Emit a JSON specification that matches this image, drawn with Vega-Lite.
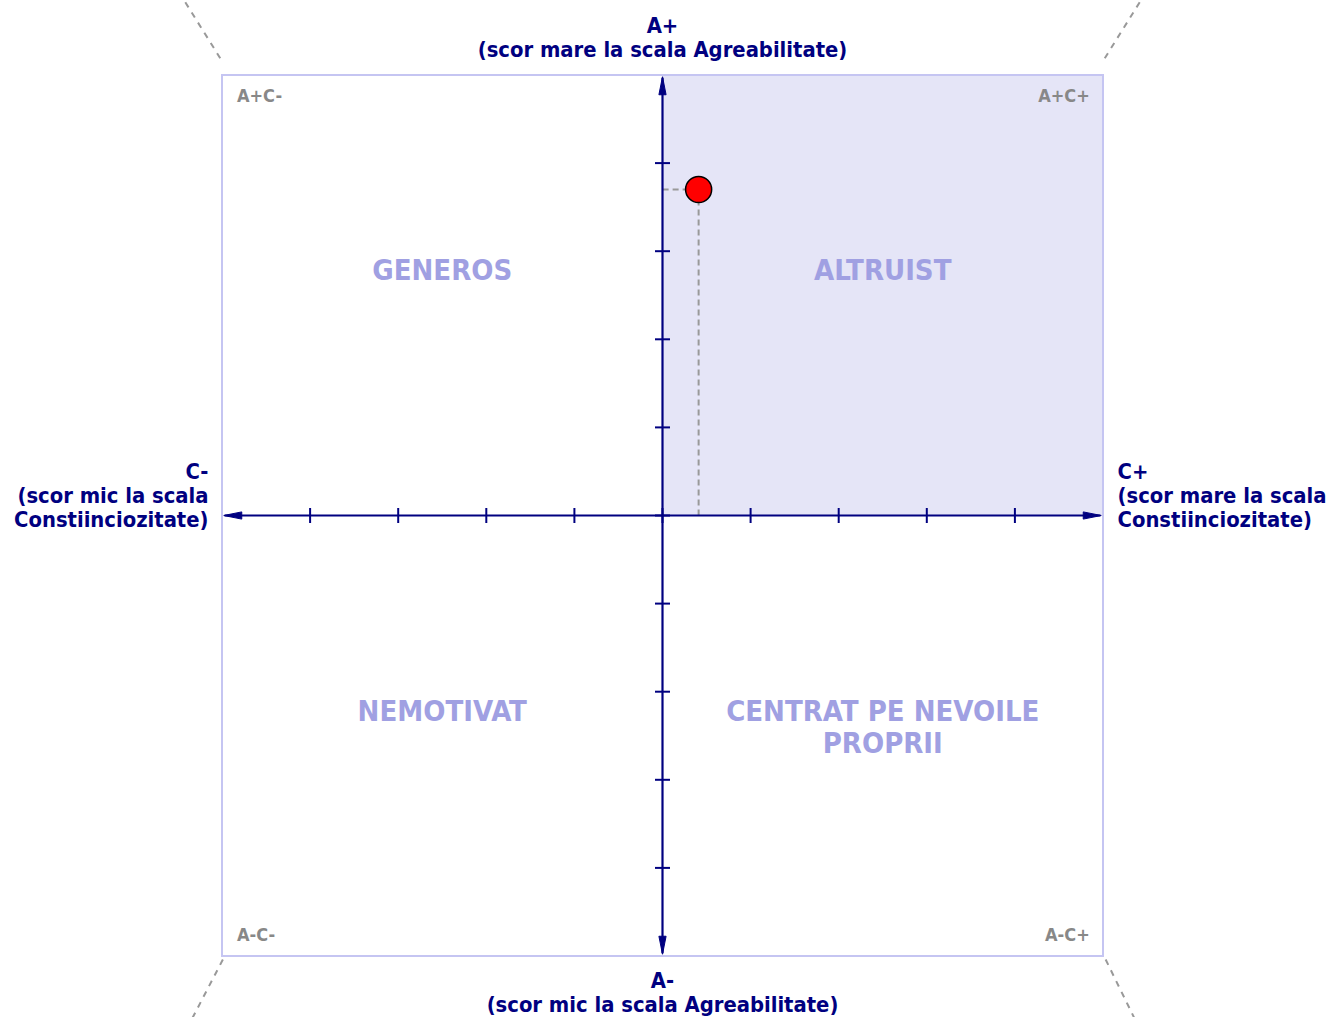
{
  "$schema": "https://vega.github.io/schema/vega-lite/v6.json",
  "width": 881,
  "height": 881,
  "autosize": {"type": "none"},
  "padding": {"left": 222, "top": 75, "right": 226, "bottom": 61},
  "background": "white",
  "config": {"view": {"stroke": null}},
  "resolve": {"scale": {"shape": "independent"}},
  "datasets": {
    "quad": [{"x": 0, "y": 0, "x2": 5, "y2": 5}],
    "box": [{"x": -5, "y": -5, "x2": 5, "y2": 5}],
    "diag": [
      {"x": -5.02, "y": 5.19, "x2": -5.65, "y2": 6.2},
      {"x": 5.02, "y": 5.19, "x2": 5.65, "y2": 6.2},
      {"x": -4.99, "y": -5.04, "x2": -5.49, "y2": -6.0},
      {"x": 5.03, "y": -5.04, "x2": 5.5, "y2": -6.0}
    ],
    "axes": [
      {"x": -4.97, "y": 0, "x2": 4.97, "y2": 0},
      {"x": 0, "y": -4.97, "x2": 0, "y2": 4.97}
    ],
    "arrows": [
      {"x": -4.98, "y": 0, "dir": "L"},
      {"x": 4.98, "y": 0, "dir": "R"},
      {"x": 0, "y": 4.98, "dir": "U"},
      {"x": 0, "y": -4.98, "dir": "D"}
    ],
    "ticks": [
      {"x": -4, "y": 0, "o": "v"}, {"x": -3, "y": 0, "o": "v"}, {"x": -2, "y": 0, "o": "v"}, {"x": -1, "y": 0, "o": "v"},
      {"x": 1, "y": 0, "o": "v"}, {"x": 2, "y": 0, "o": "v"}, {"x": 3, "y": 0, "o": "v"}, {"x": 4, "y": 0, "o": "v"},
      {"x": 0, "y": -4, "o": "h"}, {"x": 0, "y": -3, "o": "h"}, {"x": 0, "y": -2, "o": "h"}, {"x": 0, "y": -1, "o": "h"},
      {"x": 0, "y": 1, "o": "h"}, {"x": 0, "y": 2, "o": "h"}, {"x": 0, "y": 3, "o": "h"}, {"x": 0, "y": 4, "o": "h"},
      {"x": 0, "y": 0, "o": "v"}, {"x": 0, "y": 0, "o": "h"}
    ],
    "score": [{"x": 0.41, "y": 3.70}],
    "quadLabels": [
      {"x": -2.5, "y": 2.93, "label": "GENEROS"},
      {"x": 2.5, "y": 2.93, "label": "ALTRUIST"},
      {"x": -2.5, "y": -2.066, "label": "NEMOTIVAT"},
      {"x": 2.5, "y": -2.066, "label": "CENTRAT PE NEVOILE\nPROPRII"}
    ],
    "cornerLeft": [
      {"x": -4.83, "y": 4.75, "label": "A+C-"},
      {"x": -4.83, "y": -4.77, "label": "A-C-"}
    ],
    "cornerRight": [
      {"x": 4.85, "y": 4.75, "label": "A+C+"},
      {"x": 4.85, "y": -4.77, "label": "A-C+"}
    ],
    "axisCenter": [
      {"x": 0, "y": 5.67, "label": "A+\n(scor mare la scala Agreabilitate)"},
      {"x": 0, "y": -5.17, "label": "A-\n(scor mic la scala Agreabilitate)"}
    ],
    "axisLeft": [
      {"x": -5.153, "y": 0.61, "label": "C-\n(scor mic la scala\nConstiinciozitate)"}
    ],
    "axisRight": [
      {"x": 5.165, "y": 0.61, "label": "C+\n(scor mare la scala\nConstiinciozitate)"}
    ]
  },
  "encoding": {
    "x": {"field": "x", "type": "quantitative", "scale": {"domain": [-5, 5], "nice": false, "zero": false}, "axis": null},
    "y": {"field": "y", "type": "quantitative", "scale": {"domain": [-5, 5], "nice": false, "zero": false}, "axis": null}
  },
  "layer": [
    {
      "data": {"name": "quad"},
      "mark": {"type": "rect", "fill": "#e5e5f7", "stroke": null},
      "encoding": {"x2": {"field": "x2"}, "y2": {"field": "y2"}}
    },
    {
      "data": {"name": "box"},
      "mark": {"type": "rect", "fill": null, "filled": false, "stroke": "#c5c5f2", "strokeWidth": 2},
      "encoding": {"x2": {"field": "x2"}, "y2": {"field": "y2"}}
    },
    {
      "data": {"name": "diag"},
      "mark": {"type": "rule", "clip": false, "stroke": "#999999", "strokeWidth": 2, "strokeDash": [6, 6]},
      "encoding": {"x2": {"field": "x2"}, "y2": {"field": "y2"}}
    },
    {
      "data": {"name": "score"},
      "mark": {"type": "rule", "stroke": "#999999", "strokeWidth": 2, "strokeDash": [6, 4]},
      "encoding": {"y2": {"datum": 0}}
    },
    {
      "data": {"name": "score"},
      "mark": {"type": "rule", "stroke": "#999999", "strokeWidth": 2, "strokeDash": [6, 4]},
      "encoding": {"x2": {"datum": 0}}
    },
    {
      "data": {"name": "axes"},
      "mark": {"type": "rule", "stroke": "#000080", "strokeWidth": 2.2},
      "encoding": {"x2": {"field": "x2"}, "y2": {"field": "y2"}}
    },
    {
      "data": {"name": "ticks"},
      "mark": {"type": "point", "filled": false, "stroke": "#000080", "strokeWidth": 2, "size": 225, "opacity": 1},
      "encoding": {
        "shape": {"field": "o", "type": "nominal", "scale": {"domain": ["v", "h"], "range": ["M0,-1L0,1", "M-1,0L1,0"]}, "legend": null}
      }
    },
    {
      "data": {"name": "arrows"},
      "mark": {"type": "point", "filled": true, "fill": "#000080", "stroke": "#000080", "strokeWidth": 1, "size": 324, "opacity": 1},
      "encoding": {
        "shape": {"field": "dir", "type": "nominal", "scale": {"domain": ["L", "R", "U", "D"], "range": ["M0,0L2,-0.4L2,0.4Z", "M0,0L-2,-0.4L-2,0.4Z", "M0,0L-0.4,2L0.4,2Z", "M0,0L-0.4,-2L0.4,-2Z"]}, "legend": null}
      }
    },
    {
      "data": {"name": "score"},
      "mark": {"type": "point", "filled": true, "fill": "#ff0000", "stroke": "#000000", "strokeWidth": 1.5, "size": 680, "opacity": 1}
    },
    {
      "data": {"name": "quadLabels"},
      "mark": {"type": "text", "align": "center", "baseline": "top", "lineBreak": "\n", "lineHeight": 32, "font": "DejaVu Sans Condensed", "fontWeight": "bold", "fontSize": 29, "fill": "#a0a0e2"},
      "encoding": {"text": {"field": "label"}}
    },
    {
      "data": {"name": "cornerLeft"},
      "mark": {"type": "text", "align": "left", "baseline": "middle", "font": "DejaVu Sans Condensed", "fontWeight": "bold", "fontSize": 18, "fill": "#888888"},
      "encoding": {"text": {"field": "label"}}
    },
    {
      "data": {"name": "cornerRight"},
      "mark": {"type": "text", "align": "right", "baseline": "middle", "font": "DejaVu Sans Condensed", "fontWeight": "bold", "fontSize": 18, "fill": "#888888"},
      "encoding": {"text": {"field": "label"}}
    },
    {
      "data": {"name": "axisCenter"},
      "mark": {"type": "text", "clip": false, "align": "center", "baseline": "top", "lineBreak": "\n", "lineHeight": 24, "font": "DejaVu Sans Condensed", "fontWeight": "bold", "fontSize": 21.8, "fill": "#000080"},
      "encoding": {"text": {"field": "label"}}
    },
    {
      "data": {"name": "axisLeft"},
      "mark": {"type": "text", "clip": false, "align": "right", "baseline": "top", "lineBreak": "\n", "lineHeight": 24, "font": "DejaVu Sans Condensed", "fontWeight": "bold", "fontSize": 21.8, "fill": "#000080"},
      "encoding": {"text": {"field": "label"}}
    },
    {
      "data": {"name": "axisRight"},
      "mark": {"type": "text", "clip": false, "align": "left", "baseline": "top", "lineBreak": "\n", "lineHeight": 24, "font": "DejaVu Sans Condensed", "fontWeight": "bold", "fontSize": 21.8, "fill": "#000080"},
      "encoding": {"text": {"field": "label"}}
    }
  ]
}
